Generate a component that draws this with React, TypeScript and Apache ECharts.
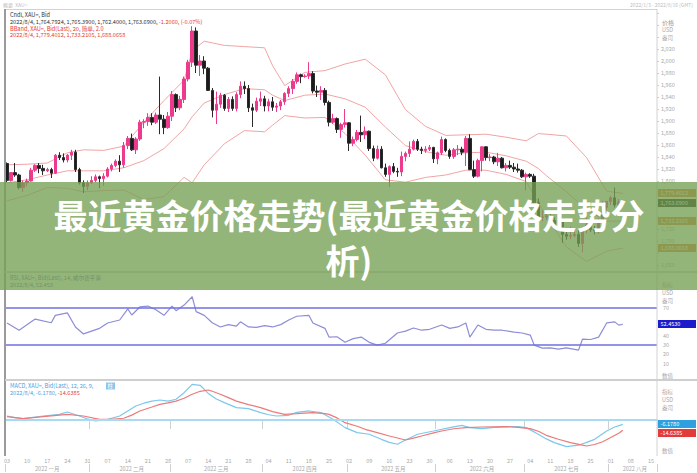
import React, { useEffect, useRef } from "react";
import * as echarts from "echarts";

const FONT = '"Noto Sans CJK SC", "Noto Sans", sans-serif';

// ---------- trading days (categories) ----------
const YEAR = 2022;
const JAN_DAYS = [3, 4, 5, 6, 7, 10, 11, 12, 13, 14, 17, 18, 19, 20, 21, 24, 25, 26, 27, 28, 31];
const FEB_DAYS = [1, 2, 3, 4, 7, 8, 9, 10, 11, 14, 15, 16, 17, 18, 21, 22, 23, 24, 25, 28];
const MAR_DAYS = [1, 2, 3, 4, 7, 8, 9, 10, 11, 14, 15, 16, 17, 18, 21, 22, 23, 24, 25, 28, 29, 30, 31];
const APR_DAYS = [1, 4, 5, 6, 7, 8, 11, 12, 13, 14, 15, 18, 19, 20, 21, 22, 25, 26, 27, 28, 29];
const MAY_DAYS = [2, 3, 4, 5, 6, 9, 10, 11, 12, 13, 16, 17, 18, 19, 20, 23, 24, 25, 26, 27, 30, 31];
const JUN_DAYS = [1, 2, 3, 6, 7, 8, 9, 10, 13, 14, 15, 16, 17, 20, 21, 22, 23, 24, 27, 28, 29, 30];
const JUL_DAYS = [1, 4, 5, 6, 7, 8, 11, 12, 13, 14, 15, 18, 19, 20, 21, 22, 25, 26, 27, 28, 29];
const AUG_DAYS = [1, 2, 3, 4, 5, 8, 9, 10, 11, 12, 15, 16];
const MONTH_LABELS = ["2022 一月", "2022 二月", "2022 三月", "2022 四月", "2022 五月", "2022 六月", "2022 七月", "2022 八月"];

// ---------- candles: [open, close, low, high] ----------
const OHLC_JAN = [
  [1829, 1801, 1798, 1831], [1801, 1814, 1799, 1815], [1814, 1810, 1807, 1830], [1810, 1789, 1786, 1812], [1789, 1797, 1782, 1801],
  [1797, 1800, 1791, 1804], [1800, 1818, 1799, 1822], [1818, 1826, 1815, 1828], [1826, 1821, 1813, 1830], [1821, 1817, 1810, 1827],
  [1817, 1819, 1815, 1822], [1819, 1813, 1805, 1822], [1813, 1843, 1812, 1845], [1843, 1839, 1835, 1848], [1839, 1835, 1831, 1846],
  [1835, 1843, 1831, 1845], [1843, 1848, 1835, 1852], [1848, 1819, 1815, 1852], [1819, 1797, 1794, 1822], [1797, 1791, 1780, 1801],
  [1791, 1797, 1785, 1801],
];
const OHLC_FEB = [
  [1797, 1801, 1795, 1808], [1801, 1807, 1798, 1811], [1807, 1804, 1788, 1809], [1804, 1808, 1792, 1813], [1808, 1820, 1806, 1823],
  [1820, 1826, 1816, 1829], [1826, 1833, 1823, 1836], [1833, 1827, 1815, 1843], [1827, 1859, 1822, 1865], [1859, 1871, 1853, 1875],
  [1871, 1852, 1850, 1879], [1852, 1870, 1845, 1873], [1870, 1898, 1867, 1902], [1898, 1899, 1888, 1903], [1899, 1906, 1892, 1913],
  [1906, 1898, 1893, 1913], [1898, 1910, 1895, 1914], [1910, 1903, 1878, 1974], [1903, 1889, 1878, 1910], [1889, 1908, 1887, 1915],
];
const OHLC_MAR = [
  [1908, 1944, 1900, 1950], [1944, 1922, 1915, 1946], [1922, 1936, 1918, 1942], [1936, 1970, 1930, 1974], [1970, 1998, 1966, 2002],
  [1998, 2050, 1990, 2058], [2050, 1993, 1980, 2056], [1993, 2000, 1975, 2010], [2000, 1988, 1978, 2008], [1988, 1951, 1950, 1990],
  [1951, 1918, 1906, 1955], [1918, 1928, 1895, 1949], [1928, 1943, 1922, 1947], [1943, 1921, 1917, 1945], [1921, 1936, 1915, 1940],
  [1936, 1921, 1917, 1941], [1921, 1944, 1916, 1948], [1944, 1958, 1938, 1966], [1958, 1954, 1945, 1966], [1954, 1922, 1915, 1960],
  [1922, 1918, 1890, 1929], [1918, 1933, 1915, 1939], [1933, 1937, 1925, 1949],
];
const OHLC_APR = [
  [1937, 1925, 1916, 1942], [1925, 1932, 1916, 1937], [1932, 1923, 1917, 1940], [1923, 1925, 1915, 1930], [1925, 1932, 1918, 1935],
  [1932, 1946, 1927, 1948], [1946, 1954, 1940, 1958], [1954, 1966, 1945, 1970], [1966, 1977, 1962, 1981], [1977, 1974, 1963, 1979],
  [1974, 1975, 1972, 1978], [1975, 1979, 1970, 1998], [1979, 1950, 1946, 1983], [1950, 1948, 1940, 1959], [1948, 1951, 1935, 1958],
  [1951, 1931, 1926, 1955], [1931, 1898, 1891, 1934], [1898, 1904, 1895, 1912], [1904, 1886, 1880, 1906], [1886, 1894, 1872, 1897],
  [1894, 1897, 1889, 1920],
];
const OHLC_MAY = [
  [1897, 1863, 1850, 1898], [1863, 1869, 1858, 1874], [1869, 1881, 1866, 1885], [1881, 1877, 1865, 1909], [1877, 1883, 1870, 1891],
  [1883, 1854, 1850, 1884], [1854, 1838, 1833, 1859], [1838, 1853, 1836, 1859], [1853, 1822, 1821, 1858], [1822, 1811, 1807, 1829],
  [1811, 1824, 1790, 1826], [1824, 1816, 1813, 1830], [1816, 1815, 1807, 1822], [1815, 1841, 1808, 1849], [1841, 1846, 1833, 1849],
  [1846, 1853, 1840, 1866], [1853, 1866, 1851, 1869], [1866, 1853, 1850, 1870], [1853, 1851, 1845, 1857], [1851, 1853, 1847, 1858],
  [1853, 1856, 1850, 1860], [1856, 1837, 1830, 1857],
];
const OHLC_JUN = [
  [1837, 1847, 1828, 1849], [1847, 1869, 1843, 1874], [1869, 1851, 1848, 1871], [1851, 1841, 1837, 1854], [1841, 1852, 1837, 1855],
  [1852, 1853, 1843, 1860], [1853, 1848, 1843, 1857], [1848, 1871, 1825, 1875], [1871, 1819, 1818, 1878], [1819, 1808, 1805, 1834],
  [1808, 1834, 1806, 1837], [1834, 1857, 1816, 1857], [1857, 1839, 1834, 1858], [1839, 1840, 1833, 1845], [1840, 1832, 1828, 1842],
  [1832, 1838, 1825, 1847], [1838, 1822, 1821, 1840], [1822, 1826, 1816, 1830], [1826, 1823, 1820, 1834], [1823, 1820, 1815, 1830],
  [1820, 1818, 1814, 1829], [1818, 1807, 1805, 1820],
];
const OHLC_JUL = [
  [1807, 1811, 1784, 1814], [1811, 1808, 1805, 1813], [1808, 1764, 1763, 1812], [1764, 1739, 1732, 1771], [1739, 1740, 1733, 1751],
  [1740, 1742, 1735, 1752], [1742, 1734, 1731, 1745], [1734, 1725, 1722, 1739], [1725, 1735, 1721, 1745], [1735, 1711, 1697, 1737],
  [1711, 1708, 1702, 1722], [1708, 1709, 1703, 1724], [1709, 1711, 1706, 1722], [1711, 1696, 1690, 1720], [1696, 1718, 1681, 1720],
  [1718, 1727, 1713, 1739], [1727, 1719, 1715, 1730], [1719, 1717, 1711, 1725], [1717, 1734, 1712, 1738], [1734, 1756, 1730, 1767],
  [1756, 1766, 1751, 1766],
];
const OHLC_AUG = [
  [1766, 1772, 1760, 1775], [1772, 1760, 1756, 1789], [1760, 1764.896, 1755, 1770], [1764.7924, 1763.69, 1762.4, 1765.39],
];

// ---------- Bollinger bands (20, 2) read at trading-day indices ----------
const BB_IDX = [0, 5, 10, 15, 19, 24, 29, 34, 39, 44, 46, 49, 54, 59, 64, 66, 69, 74, 79, 84, 89, 94, 99, 104, 109, 114, 119, 124, 129, 132, 134, 139, 144, 149, 153];
const BB_UPPER = [1827, 1828, 1830, 1847, 1852, 1851, 1858, 1898, 1934, 1968, 2017, 2033, 2026, 2024, 2022, 1992, 1959, 1981, 1984, 1995, 2003, 1977, 1919, 1891, 1876, 1877, 1878, 1873, 1867, 1879, 1878, 1875, 1839, 1783, 1779.4012];
const BB_MID = [1797, 1802, 1810, 1817, 1817, 1817, 1822, 1834, 1854, 1887, 1907, 1930, 1944, 1954, 1952, 1943, 1934, 1943, 1945, 1937, 1923, 1890, 1859, 1849, 1843, 1847, 1848, 1842, 1833, 1821, 1809, 1782, 1752, 1733, 1733.2105];
const BB_LOWER = [1767, 1776, 1789, 1788, 1782, 1784, 1785, 1769, 1774, 1806, 1797, 1827, 1862, 1884, 1882, 1893, 1909, 1905, 1906, 1879, 1843, 1802, 1798, 1806, 1810, 1818, 1818, 1811, 1799, 1764, 1741, 1690, 1666, 1683, 1688.0658];

// ---------- RSI (14) ----------
const RSI_IDX = [0, 3, 7, 11, 12, 15, 17, 19, 21, 23, 25, 28, 30, 31, 33, 35, 37, 39, 41, 42, 44, 46, 47, 49, 51, 53, 55, 57, 58, 60, 62, 64, 66, 68, 70, 72, 75, 76, 79, 80, 82, 84, 86, 88, 90, 92, 94, 97, 99, 101, 103, 105, 108, 110, 112, 114, 115, 117, 119, 121, 123, 126, 128, 130, 131, 133, 135, 137, 139, 142, 143, 145, 147, 149, 151, 152, 153];
const RSI_VALUES = [53.8, 46, 58, 54, 62, 64.6, 49.5, 42, 45, 48, 53.8, 57, 69, 62.4, 71, 72, 68, 62, 72, 67, 73, 82, 66, 62, 54, 49.5, 52, 50.5, 55, 49.5, 49, 51, 49.5, 52, 57, 61, 62, 53.8, 48, 38.6, 39, 33, 37, 38.6, 33, 30, 32, 43, 45, 48.4, 46, 47, 51.6, 48, 49.5, 53.8, 38.6, 51.6, 47, 46, 46, 44, 43, 40.8, 30, 26.8, 27, 25.7, 27, 24.6, 36.5, 36, 38.6, 53.8, 55, 51.5, 52.453];

// ---------- MACD (12, 26, 9) ----------
const MACD_IDX = [0, 2, 4, 6, 9, 13, 15, 18, 20, 22, 25, 28, 30, 32, 34, 36, 38, 40, 42, 44, 46, 48, 50, 52, 54, 57, 60, 63, 65, 67, 70, 72, 75, 78, 81, 84, 87, 90, 93, 95, 97, 99, 102, 106, 110, 113, 115, 118, 121, 124, 127, 129, 132, 134, 136, 139, 142, 144, 146, 149, 151, 153];
const MACD_VALUES = [5.7, 3.4, 2, 3.5, 5.7, 8.1, 11.4, 5.7, 1.5, -1.4, 1, 5.7, 13, 20, 24, 27, 28.6, 27, 29.6, 39, 51, 49.6, 38, 30, 24.8, 17.7, 16.3, 10.6, 7.5, 5.7, 6.7, 11, 12.9, 10.6, 1, -10.9, -18, -20.4, -27.6, -32, -34.7, -28.6, -20.4, -15.7, -10.9, -7.6, -10.9, -12.3, -10.5, -9.5, -9.5, -10.9, -20.4, -27, -32.3, -38, -36, -32, -27.6, -15.7, -10, -6.178];
const SIGNAL_IDX = [0, 4, 9, 15, 19, 23, 26, 29, 31, 33, 36, 38, 40, 42, 44, 46, 48, 50, 51, 53, 55, 57, 60, 63, 66, 69, 72, 76, 79, 80, 82, 84, 87, 89, 92, 95, 99, 101, 103, 106, 108, 111, 114, 118, 124, 127, 130, 132, 134, 137, 140, 143, 144, 146, 148, 150, 152, 153];
const SIGNAL_VALUES = [4.8, 2, 4.8, 8.1, 5.7, 1, 1, 2.5, 7, 12.9, 18.5, 22.4, 24.5, 27, 31, 36.7, 41, 42.9, 41, 36.7, 32, 27, 22, 17.7, 12, 8.1, 9, 10.6, 9, 8.1, 3, -3.8, -9, -13.3, -18, -22.8, -28.6, -26, -22.8, -18.5, -15.7, -12.5, -10.9, -10, -9.5, -10.5, -12.3, -16, -21.9, -27.5, -32.3, -36, -37.1, -35, -31, -25.1, -19, -14.6385];

// ---------- derived tables ----------
const MONTH_DAY_LISTS = [JAN_DAYS, FEB_DAYS, MAR_DAYS, APR_DAYS, MAY_DAYS, JUN_DAYS, JUL_DAYS, AUG_DAYS];
const pad = (n: number) => String(n).padStart(2, "0");
const CATEGORIES: string[] = [];
const MONTH_START = new Set<number>();
const MONTH_MID = new Map<number, string>();
MONTH_DAY_LISTS.forEach((days, m) => {
  const start = CATEGORIES.length;
  MONTH_START.add(start);
  MONTH_MID.set(start + Math.floor(days.length / 2), MONTH_LABELS[m]);
  days.forEach((d) => CATEGORIES.push(`${YEAR}-${pad(m + 1)}-${pad(d)}`));
});
const isMonday = (i: number) => new Date(CATEGORIES[i] + "T00:00:00Z").getUTCDay() === 1;
const CANDLES = [...OHLC_JAN, ...OHLC_FEB, ...OHLC_MAR, ...OHLC_APR, ...OHLC_MAY, ...OHLC_JUN, ...OHLC_JUL, ...OHLC_AUG];
const pairs = (idx: number[], vals: number[]) => idx.map((i, k) => [CATEGORIES[i], vals[k]]);
const LAST_CANDLE = CANDLES[CANDLES.length - 1];
const NB = BB_UPPER.length - 1;
const PRICE_BOX_VALUES = [BB_UPPER[NB], LAST_CANDLE[1], BB_MID[NB], BB_LOWER[NB]];
const RSI_LAST = RSI_VALUES[RSI_VALUES.length - 1];

const fmt = (v: number, d = 4) => v.toLocaleString("en-US", { minimumFractionDigits: d, maximumFractionDigits: d });

function buildOption(): any {
  const hiddenX = (gridIndex: number) => ({
    type: "category", gridIndex, data: CATEGORIES, boundaryGap: true,
    axisLine: { show: false }, axisTick: { show: false }, axisLabel: { show: false }, splitLine: { show: false },
  });
  const lineSeries = (name: string, x: number, y: number, data: any[], color: string, width: number, extra: any = {}) => ({
    name, type: "line", xAxisIndex: x, yAxisIndex: y, data, symbol: "none", smooth: false,
    lineStyle: { color, width }, itemStyle: { color }, z: 3, silent: true, ...extra,
  });
  return {
    animation: false,
    backgroundColor: "#ffffff",
    textStyle: { fontFamily: FONT },
    grid: [
      { left: 5, width: 652, top: 13, height: 252 },
      { left: 5, width: 652, top: 280, height: 93 },
      { left: 5, width: 652, top: 378, height: 77 },
    ],
    xAxis: [
      hiddenX(0),
      hiddenX(1),
      {
        type: "category", gridIndex: 2, data: CATEGORIES, boundaryGap: true,
        axisLine: { show: true, lineStyle: { color: "#c4c4c4", width: 2 } },
        axisTick: { show: true, interval: (i: number) => MONTH_START.has(i), length: 9, lineStyle: { color: "#d0d0d0" } },
        axisLabel: {
          interval: (i: number) => isMonday(i), formatter: (v: string) => v.slice(8),
          fontSize: 5.5, color: "#a8a8a8", margin: 3, fontFamily: FONT,
        },
        splitLine: { show: false },
      },
      {
        type: "category", gridIndex: 2, data: CATEGORIES, boundaryGap: true, position: "bottom", offset: 9,
        axisLine: { show: false },
        axisTick: { show: true, interval: (i: number) => MONTH_START.has(i), length: 8, lineStyle: { color: "#d0d0d0" } },
        axisLabel: {
          interval: (i: number) => MONTH_MID.has(i), formatter: (_v: string, i: number) => MONTH_MID.get(i) || "",
          fontSize: 5.5, color: "#a8a8a8", margin: 2, fontFamily: FONT,
        },
        splitLine: { show: false },
      },
    ],
    yAxis: [
      {
        type: "value", gridIndex: 0, position: "right", min: 1660, max: 2080, interval: 20, scale: true,
        axisLine: { show: false }, splitLine: { show: false },
        axisTick: { show: true, length: 2, lineStyle: { color: "#cccccc" } },
        axisLabel: {
          fontSize: 5.5, color: "#a8a8a8", margin: 4, fontFamily: FONT,
          formatter: (v: number) =>
            v > 2020 || PRICE_BOX_VALUES.some((b) => Math.abs(b - v) < 11) ? "" : v.toLocaleString("en-US"),
        },
      },
      {
        type: "value", gridIndex: 1, position: "right", min: 0, max: 100, interval: 10,
        axisLine: { show: false }, splitLine: { show: false },
        axisTick: { show: false },
        axisLabel: {
          fontSize: 5.5, color: "#a8a8a8", margin: 6, fontFamily: FONT,
          formatter: (v: number) => (v >= 10 && v <= 70 && Math.abs(v - RSI_LAST) > 9 ? String(v) : ""),
        },
      },
      {
        type: "value", gridIndex: 2, position: "right", min: -50, max: 60, interval: 10,
        axisLine: { show: false }, splitLine: { show: false }, axisTick: { show: false },
        axisLabel: { show: false },
      },
    ],
    series: [
      lineSeries("BB上轨", 0, 0, pairs(BB_IDX, BB_UPPER), "#f1a4a4", 1),
      lineSeries("BB中轨", 0, 0, pairs(BB_IDX, BB_MID), "#f1a4a4", 1),
      lineSeries("BB下轨", 0, 0, pairs(BB_IDX, BB_LOWER), "#f1a4a4", 1),
      {
        name: "XAU=", type: "candlestick", xAxisIndex: 0, yAxisIndex: 0, data: CANDLES, barWidth: 3, z: 4,
        itemStyle: { color: "#ee3a8c", color0: "#1b1b1b", borderColor: "#ee3a8c", borderColor0: "#2a2a2a", borderWidth: 1 },
        silent: true,
      },
      lineSeries("RSI", 1, 1, pairs(RSI_IDX, RSI_VALUES), "#8d8dd8", 1.2, {
        markLine: {
          silent: true, symbol: ["none", "none"], label: { show: false },
          lineStyle: { color: "#6f6fe0", width: 1.6, type: "solid" },
          data: [{ yAxis: 70 }, { yAxis: 30 }],
        },
      }),
      lineSeries("MACD", 2, 2, pairs(MACD_IDX, MACD_VALUES), "#7cc8ec", 1.2, {
        markLine: {
          silent: true, symbol: ["none", "none"], label: { show: false },
          lineStyle: { color: "#a9daf2", width: 2, type: "solid" },
          data: [{ yAxis: 0 }],
        },
      }),
      lineSeries("Signal", 2, 2, pairs(SIGNAL_IDX, SIGNAL_VALUES), "#ec7a7a", 1.2),
    ],
  };
}

function buildGraphics(chart: any): any[] {
  const py = (axis: number, v: number) => chart.convertToPixel({ yAxisIndex: axis }, v) as number;
  const txt = (x: number, y: number, text: string, size: number, fill: string, z = 20, extra: any = {}) => ({
    type: "text", x, y, z, silent: true,
    style: { text, fontSize: size, fill, fontFamily: FONT, verticalAlign: "middle", ...extra },
  });
  const ln = (x1: number, y1: number, x2: number, y2: number, stroke: string, w: number) => ({
    type: "line", z: 6, silent: true, shape: { x1, y1, x2, y2 }, style: { stroke, lineWidth: w },
  });
  const box = (y: number, text: string, fill: string) => ({
    type: "group", x: 658, y: Math.round(y) - 4, z: 30, silent: true,
    children: [
      { type: "rect", z: 30, shape: { x: 0, y: 0, width: 38, height: 8 }, style: { fill } },
      { type: "text", z: 31, x: 2.5, y: 4, style: { text, fontSize: 5.5, fill: "#ffffff", fontFamily: FONT, verticalAlign: "middle" } },
    ],
  });

  const last = LAST_CANDLE;
  const prev = CANDLES[CANDLES.length - 2];
  const change = last[1] - prev[1];
  const pct = (change / prev[1]) * 100;
  const lastDate = "2022/8/4";
  const macdLast = MACD_VALUES[MACD_VALUES.length - 1];
  const sigLast = SIGNAL_VALUES[SIGNAL_VALUES.length - 1];

  const legendMain2 =
    `{k|${lastDate}, ${fmt(last[0])}, ${fmt(last[3])}, ${fmt(last[2])}, ${fmt(last[1])}, }` +
    `{r|${fmt(change)}, (${pct.toFixed(2)}%)}`;

  return [
    // top strip
    txt(3, 4, "概要  XAU=", 5, "#bdbdbd"),
    txt(693, 4, "2022/1/3 - 2022/8/16 (GMT)", 5, "#bdbdbd", 20, { align: "right" }),
    // frame
    ln(5, 9.5, 657, 9.5, "#d2d2d2", 1),
    ln(5, 9, 5, 456, "#9a9a9a", 2),
    ln(657, 9, 657, 456, "#d2d2d2", 1),
    ln(5, 272, 697, 272, "#cfcfcf", 2),
    ln(5, 380, 697, 380, "#cfcfcf", 2),
    // main legend
    txt(10, 15, "Cndl, XAU=, Bid", 5.6, "#333333"),
    {
      type: "text", x: 10, y: 21.5, z: 20, silent: true,
      style: {
        text: legendMain2, fontFamily: FONT, verticalAlign: "middle", fontSize: 5.6,
        rich: { k: { fill: "#333333", fontSize: 5.6, fontFamily: FONT }, r: { fill: "#e53935", fontSize: 5.6, fontFamily: FONT } },
      },
    },
    txt(10, 28.5, "BBand, XAU=, Bid(Last), 20, 简单, 2.0", 5.6, "#e53935"),
    txt(10, 35, `${lastDate}, ${fmt(BB_UPPER[NB])}, ${fmt(BB_MID[NB])}, ${fmt(BB_LOWER[NB])}`, 5.6, "#e53935"),
    // price axis header
    txt(662, 22, "价格", 6, "#9a9a9a"),
    txt(662, 30, "USD", 5.5, "#a8a8a8"),
    txt(662, 38, "盎司", 5.5, "#a8a8a8"),
    // value boxes (price)
    box(py(0, BB_UPPER[NB]), fmt(BB_UPPER[NB]), "#e2793a"),
    box(py(0, last[1]), fmt(last[1]), "#1e1e1e"),
    box(py(0, BB_MID[NB]), fmt(BB_MID[NB]), "#e2793a"),
    box(py(0, BB_LOWER[NB]), fmt(BB_LOWER[NB]), "#e2793a"),
    // RSI legend & header
    txt(10, 278, "RSI, XAU=, Bid(Last), 14, 威尔德平滑", 5.6, "#5a5aa8"),
    txt(10, 284.5, `${lastDate}, ${RSI_LAST.toFixed(3)}`, 5.6, "#5a5aa8"),
    txt(662, 285, "指标", 5.5, "#a8a8a8"),
    txt(662, 293, "USD", 5.5, "#a8a8a8"),
    txt(662, 301, "盎司", 5.5, "#a8a8a8"),
    txt(662, 376, "数值", 5.5, "#a8a8a8"),
    box(py(1, RSI_LAST), fmt(RSI_LAST), "#1c1ccc"),
    // MACD legend & header
    txt(10, 386, "MACD, XAU=, Bid(Last), 12, 26, 9,", 5.6, "#4aa3df"),
    {
      type: "group", x: 106, y: 382.5, z: 20, silent: true,
      children: [
        { type: "rect", z: 20, shape: { x: 0, y: 0, width: 9, height: 7 }, style: { fill: "#8cc6ee" } },
        { type: "text", z: 21, x: 1.5, y: 3.5, style: { text: "柱", fontSize: 5.5, fill: "#ffffff", fontFamily: FONT, verticalAlign: "middle" } },
      ],
    },
    {
      type: "text", x: 10, y: 393, z: 20, silent: true,
      style: {
        text: `{b|${lastDate}, ${fmt(macdLast)}, }{r|${fmt(sigLast)}}`, fontFamily: FONT, verticalAlign: "middle", fontSize: 5.6,
        rich: { b: { fill: "#4aa3df", fontSize: 5.6, fontFamily: FONT }, r: { fill: "#e53935", fontSize: 5.6, fontFamily: FONT } },
      },
    },
    txt(662, 392, "指标", 5.5, "#a8a8a8"),
    txt(662, 400, "USD", 5.5, "#a8a8a8"),
    txt(662, 408, "盎司", 5.5, "#a8a8a8"),
    txt(662, 451, "数值", 5.5, "#a8a8a8"),
    box(py(2, macdLast), fmt(macdLast), "#2f9fe0"),
    box(py(2, sigLast) + 3, fmt(sigLast), "#e23b3b"),
    // banner overlay
    {
      type: "rect", z: 100, silent: true,
      shape: { x: 0, y: 182, width: 697, height: 108 },
      style: { fill: "rgba(118,160,84,0.78)" },
    },
    {
      type: "text", z: 101, x: 349, y: 214, silent: true,
      style: {
        text: "最近黄金价格走势(最近黄金价格走势分", fill: "#ffffff", fontSize: 34, fontWeight: "bold",
        fontFamily: FONT, align: "center", verticalAlign: "middle",
      },
    },
    {
      type: "text", z: 101, x: 349, y: 259, silent: true,
      style: {
        text: "析)", fill: "#ffffff", fontSize: 34, fontWeight: "bold",
        fontFamily: FONT, align: "center", verticalAlign: "middle",
      },
    },
  ];
}

export default function App() {
  const ref = useRef<HTMLDivElement>(null);
  useEffect(() => {
    if (!ref.current) return;
    const chart = echarts.init(ref.current, null, { renderer: "svg" });
    chart.setOption(buildOption());
    chart.setOption({ graphic: buildGraphics(chart) });
    return () => chart.dispose();
  }, []);
  return (
    <div
      ref={ref}
      style={{ position: "absolute", left: 0, top: 0, width: 697, height: 473, background: "#fff" }}
    />
  );
}
